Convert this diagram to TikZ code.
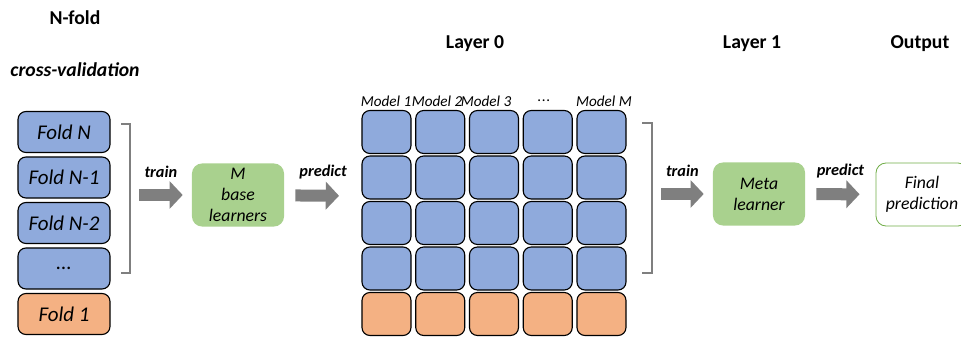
\documentclass[tikz,border=0pt]{standalone}
\usepackage{fontspec}
\setmainfont{Carlito}
\usetikzlibrary{arrows.meta}
\definecolor{foldblue}{HTML}{8FAADC}
\definecolor{foldorange}{HTML}{F4B183}
\definecolor{learngreen}{HTML}{A9D18E}
\definecolor{edgegreen}{HTML}{70AD47}
\definecolor{arrowgray}{HTML}{7F7F7F}
\begin{document}
\begin{tikzpicture}[x=0.025cm,y=-0.025cm,
  fold/.style={draw=black,line width=0.8pt,rounded corners=0.2cm,minimum width=2.3cm,minimum height=1.025cm,inner sep=0pt,font=\fontsize{14.9}{16}\selectfont\itshape},
  cell/.style={draw=black,line width=0.8pt,rounded corners=0.2cm,minimum width=1.225cm,minimum height=1.075cm,inner sep=0pt},
  learner/.style={fill=learngreen,rounded corners=0.25cm,minimum width=2.3cm,minimum height=1.575cm,inner sep=0pt,align=center,font=\fontsize{12.6}{15}\selectfont\itshape},
  header/.style={font=\fontsize{14}{16}\selectfont\bfseries},
  modellbl/.style={font=\fontsize{10.8}{12}\selectfont\itshape,inner sep=0pt},
  lbl/.style={font=\fontsize{11.6}{13}\selectfont\bfseries\itshape,text=black},
  bigarrow/.style={draw=arrowgray,line width=0.3cm,-{Triangle[length=0.33cm,width=0.68cm]}},
  bracket/.style={draw=arrowgray,line width=1.4pt}]
\useasboundingbox (0,0) rectangle (961,339);
\node[header] (nfold) at (75,18) {N-fold};
\node[header,font=\fontsize{14}{16}\selectfont\bfseries\itshape] (cv) at (75,70) {cross-validation};
\node[header] (layer0) at (475,44) {Layer 0};
\node[header] (layer1) at (752,44) {Layer 1};
\node[header] (output) at (920,44) {Output};
\node[fold,fill=foldblue] (fN) at (64,132) {Fold N};
\node[fold,fill=foldblue] (fN1) at (64,177.5) {Fold N-1};
\node[fold,fill=foldblue] (fN2) at (64,223) {Fold N-2};
\node[fold,fill=foldblue] (fdots) at (64,268.5) {...};
\node[fold,fill=foldorange] (f1) at (64,314) {Fold 1};
\draw[bracket] (121,124) -- (130,124) -- (130,273) coordinate[pos=0.5] (brL) -- (121,273);
\node[learner] (base) at (238,195) {M\\base\\learners};
\foreach \i in {0,...,4}
  \foreach \j/\c in {0/foldblue,1/foldblue,2/foldblue,3/foldblue,4/foldorange}
    \node[cell,fill=\c] (c\i\j) at (386.5+53.75*\i,132+45.5*\j) {};
\foreach \t/\x [count=\k] in {Model 1/386,Model 2/437,Model 3/486,{.\kern0.5pt.\kern0.5pt.}/544,Model M/604}
  \node[modellbl] (m\k) at (\x,101) {\t};
\coordinate (gridL) at (362,196);
\draw[bracket] (642,123) -- (652,123) -- (652,273) coordinate[pos=0.5] (brR) -- (642,273);
\node[learner] (meta) at (759,194) {Meta\\learner};
\node[learner,fill=white,draw=edgegreen,line width=0.6pt] (final) at (922,194.5) {Final\\prediction};
\draw[bigarrow,shorten <=0.225cm,shorten >=0.225cm] (brL |- base) -- (base) node[lbl,midway,yshift=0.58cm] {train};
\draw[bigarrow,shorten <=0.275cm,shorten >=0.575cm] (base) -- (gridL) node[lbl,midway,yshift=0.58cm] {predict};
\draw[bigarrow,shorten <=0.225cm,shorten >=0.225cm] (brR |- meta) -- (meta) node[lbl,midway,yshift=0.58cm] {train};
\draw[bigarrow,shorten <=0.275cm,shorten >=0.4cm] (meta) -- (final) node[lbl,midway,yshift=0.58cm] {predict};
\end{tikzpicture}
\end{document}
